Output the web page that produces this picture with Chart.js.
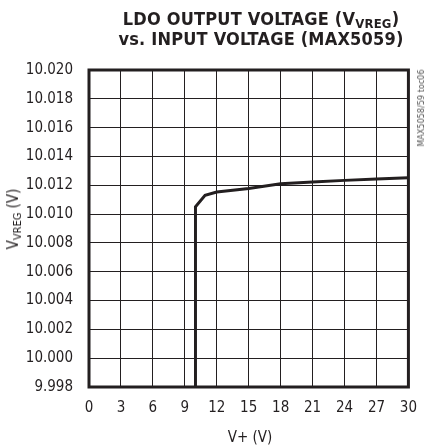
<!DOCTYPE html>
<html>
<head>
<meta charset="utf-8">
<script src="https://cdn.jsdelivr.net/npm/chart.js"></script>
<style>
    html, body { margin: 0; padding: 0; background: #fff; }
    #wrap { position: relative; width: 429px; height: 447px; font-family: "Liberation Sans Narrow", "DejaVu Sans Condensed", sans-serif; color: #231f20; }
    #chart { position: absolute; left: 0; top: 0; }
    .title { position: absolute; left: 80px; width: 362px; text-align: center; font-weight: bold; font-size: 18px; line-height: 20px; letter-spacing: 0.2px; }
    .title sub { font-size: 13px; vertical-align: -3px; line-height: 0; }
    .ytitle { position: absolute; left: 13px; top: 219px; transform: translate(-50%, -50%) rotate(-90deg); font-size: 15px; white-space: nowrap; }
    .ytitle sub { font-size: 11px; vertical-align: -3px; line-height: 0; }
    .xtitle { position: absolute; left: 250px; top: 437px; transform: translate(-50%, -50%); font-size: 15px; white-space: nowrap; }
    .toc { position: absolute; left: 421px; top: 108px; transform: translate(-50%, -50%) rotate(-90deg); font-size: 9px; white-space: nowrap; color: #555; }
</style>
</head>
<body>
<div id="wrap">
    <canvas id="chart" width="429" height="447"></canvas>
    <div class="title" style="top:9px;">LDO OUTPUT VOLTAGE (V<sub>VREG</sub>)</div>
    <div class="title" style="top:29px;">vs. INPUT VOLTAGE (MAX5059)</div>
    <div class="ytitle">V<sub>VREG</sub> (V)</div>
    <div class="xtitle">V+ (V)</div>
    <div class="toc">MAX5058/59 toc06</div>
</div>
<script>
    // ▼ 데이터
    const inputVoltage = [10, 10, 10.9, 12, 15, 18, 21, 24, 27, 30];
    const outputVoltage = [9.998, 10.0105, 10.0113, 10.01153, 10.01178, 10.0121, 10.01222, 10.01234, 10.01243, 10.01252];
    const xTicks = [0, 3, 6, 9, 12, 15, 18, 21, 24, 27, 30];
    const yTicks = [9.998, 10.000, 10.002, 10.004, 10.006, 10.008, 10.010, 10.012, 10.014, 10.016, 10.018, 10.020];
    const yTickLabels = ["9.998", "10.000", "10.002", "10.004", "10.006", "10.008", "10.010", "10.012", "10.014", "10.016", "10.018", "10.020"];

    const ink = '#231f20';
    const tickFont = { family: '"Liberation Sans Narrow", "DejaVu Sans Condensed", sans-serif', size: 15 };

    // ▼ 플롯 테두리
    const frame = {
        id: 'frame',
        afterDraw(c) {
            const a = c.chartArea, ctx = c.ctx;
            ctx.save();
            ctx.strokeStyle = ink;
            ctx.lineWidth = 3;
            ctx.strokeRect(a.left, a.top, a.right - a.left, a.bottom - a.top);
            ctx.restore();
        }
    };

    const points = inputVoltage.map((x, i) => ({ x, y: outputVoltage[i] }));

    new Chart(document.getElementById('chart'), {
        type: 'line',
        data: {
            datasets: [{
                data: points,
                borderColor: ink,
                borderWidth: 3,
                pointRadius: 0,
                tension: 0,
                fill: false
            }]
        },
        options: {
            responsive: false,
            animation: false,
            layout: { padding: { left: 0, right: 19, top: 70, bottom: 0 } },
            plugins: { legend: { display: false }, tooltip: { enabled: false } },
            scales: {
                x: {
                    type: 'linear', min: 0, max: 30,
                    afterBuildTicks: s => { s.ticks = xTicks.map(v => ({ value: v })); },
                    afterFit: s => { s.height = 60; },
                    grid: { color: ink, lineWidth: 1, drawTicks: false },
                    border: { display: false },
                    ticks: { color: ink, font: tickFont, padding: 12, maxRotation: 0 }
                },
                y: {
                    type: 'linear', min: 9.998, max: 10.020,
                    afterBuildTicks: s => { s.ticks = yTicks.map(v => ({ value: v })); },
                    afterFit: s => { s.width = 89; },
                    grid: { color: ink, lineWidth: 1, drawTicks: false },
                    border: { display: false },
                    ticks: {
                        color: ink, font: tickFont, padding: 16,
                        callback: (v, i) => yTickLabels[i]
                    }
                }
            }
        },
        plugins: [frame]
    });
</script>
</body>
</html>
